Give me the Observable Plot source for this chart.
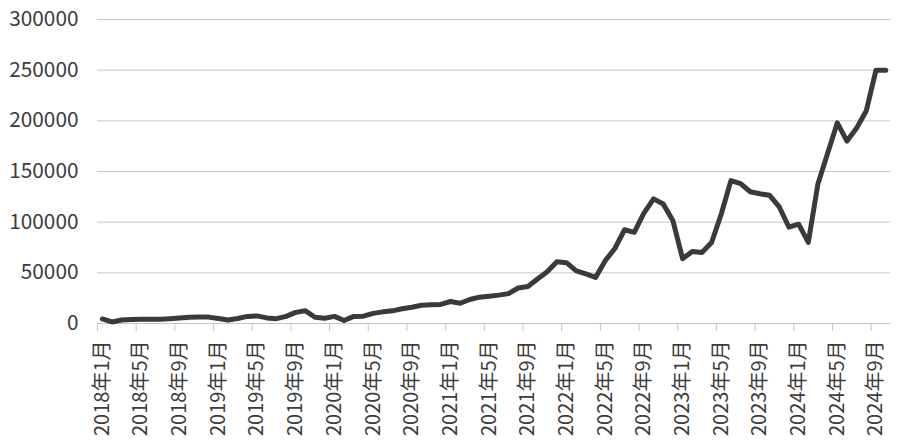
<!DOCTYPE html>
<html><head><meta charset="utf-8">
<script src="https://cdn.jsdelivr.net/npm/d3@7"></script>
<script src="https://cdn.jsdelivr.net/npm/@observablehq/plot@0.6"></script>
<style>html,body{margin:0;padding:0;background:#fff}</style>
</head><body><div id="chart"></div>
<script>
// Monthly values, 2018年1月 … 2024年10月
const values = [
  4500, 1500, 3500, 4000, 4200, 4200, 4300, 4800, 5500, 6200, 6500, 6300,
  5000, 3500, 5000, 7000, 7500, 5500, 4800, 7000, 11000, 12500, 6200, 5200,
  7000, 3000, 7000, 7200, 10000, 11500, 12500, 14500, 16000, 18000, 18400, 18800,
  21700, 20000, 23700, 26000, 27000, 28000, 29500, 35000, 36500, 44000, 51000, 61000,
  60000, 52000, 49000, 45500, 62000, 74000, 92500, 90000, 109000, 123000, 118000, 101500,
  64000, 71000, 70000, 80000, 108000, 141000, 138000, 130000, 128000, 126500, 115000, 95000,
  98000, 80000, 138000, 168000, 198000, 180000, 193000, 210000, 250000, 250000
];
const tickLabels = [
  "2018年1月","2018年5月","2018年9月","2019年1月","2019年5月","2019年9月",
  "2020年1月","2020年5月","2020年9月","2021年1月","2021年5月","2021年9月",
  "2022年1月","2022年5月","2022年9月","2023年1月","2023年5月","2023年9月",
  "2024年1月","2024年5月","2024年9月"
];
const yTicks = [0, 50000, 100000, 150000, 200000, 250000, 300000];
const tickStep = 4;

const data = values.map((v, i) => ({i, v}));
const labelPos = tickLabels.map((_, j) => j * tickStep);
const boundaryPos = labelPos.map(k => k - 0.5);

const chart = Plot.plot({
  width: 900, height: 448,
  marginLeft: 97, marginRight: 10, marginTop: 19, marginBottom: 125,
  style: {fontFamily: "'Noto Sans CJK SC', 'Noto Sans', sans-serif", fontSize: "20px", color: "#3c3c3c", background: "#fff"},
  x: {type: "linear", domain: [-0.5, values.length - 0.5], label: null},
  y: {domain: [0, 300000], label: null},
  marks: [
    Plot.gridY(yTicks, {stroke: "#c6c6c6", strokeOpacity: 1, strokeWidth: 1}),
    Plot.axisY(yTicks, {tickSize: 0, tickPadding: 19, tickFormat: d => String(d), label: null, fontSize: 20.8}),
    Plot.axisX(boundaryPos, {tickSize: 8, stroke: "#c6c6c6", strokeOpacity: 1, tickFormat: () => "", label: null}),
    Plot.axisX(labelPos, {tickSize: 0, tickPadding: 17, tickRotate: -90, tickFormat: d => tickLabels[d / tickStep], label: null, fontSize: 20}),
    Plot.line(data, {x: "i", y: "v", stroke: "#3a3a3a", strokeWidth: 5, strokeLinejoin: "round", strokeLinecap: "round"})
  ]
});
document.getElementById("chart").appendChild(chart);
</script>
</body></html>
